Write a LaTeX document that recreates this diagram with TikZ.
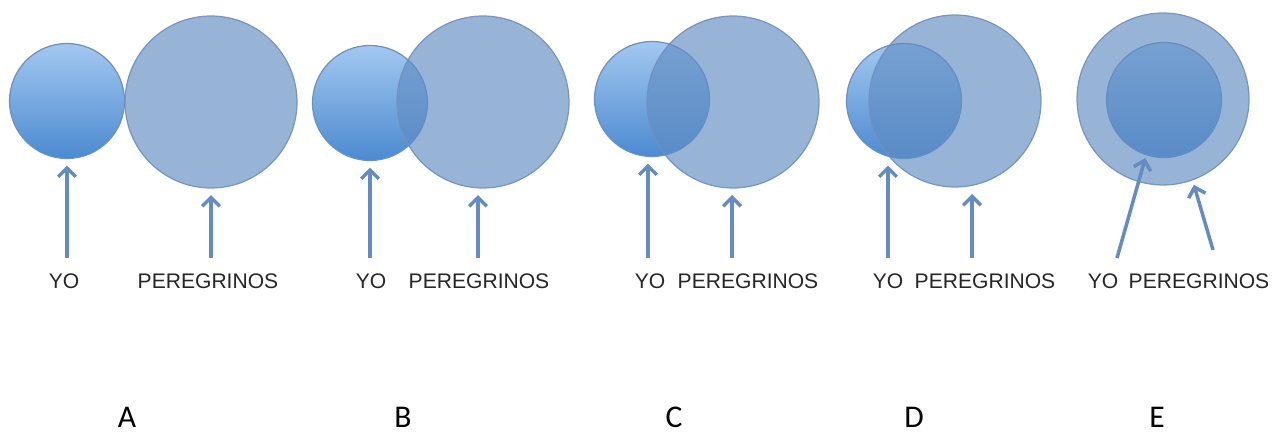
\documentclass[tikz,border=0pt]{standalone}
\usepackage{xcolor}
\usepackage{fontspec}
\setmainfont{Liberation Sans}
\newfontfamily\lettfont{Carlito}
\usetikzlibrary{arrows.meta}
\definecolor{yotop}{RGB}{162,200,240}
\definecolor{yobot}{RGB}{76,138,208}
\definecolor{perfill}{RGB}{96,140,194}
\definecolor{rimblue}{RGB}{110,144,190}
\definecolor{arrowblue}{RGB}{100,140,194}
\begin{document}
\begin{tikzpicture}[x=0.02cm,y=-0.02cm,
    yocirc/.style={circle,draw=rimblue,line width=0.7pt,top color=yotop,bottom color=yobot,minimum size=2.3cm,inner sep=0pt,outer sep=0pt},
    percirc/.style={circle,draw=rimblue,line width=0.7pt,fill=perfill,fill opacity=0.65,draw opacity=0.9,minimum size=3.44cm,inner sep=0pt,outer sep=0pt},
    pointer/.style={draw=arrowblue,line width=2pt,-{Straight Barb[length=5pt,width=10pt,line width=2pt]},shorten >=4pt},
    lbl/.style={font=\fontsize{12}{14}\selectfont,text=black!85,inner sep=0pt},
    letter/.style={font=\lettfont\fontsize{18}{20}\selectfont,inner sep=0pt}]
    \useasboundingbox (0,0) rectangle (1274,435);
    % A
    \node[yocirc] (yoA) at (67,101) {};
    \node[percirc] (perA) at (211,102) {};
    \coordinate (tyoA) at (67,258);
    \coordinate (tperA) at (211,258);
    \draw[pointer] (tyoA) -- (tyoA |- yoA.south);
    \draw[pointer] (tperA) -- (tperA |- perA.south);
    \node[lbl] (lyoA) at (64,281) {YO};
    \node[lbl] (lperA) at (208,281) {PEREGRINOS};
    \node[letter] (A) at (127,417) {A};
    % B
    \node[yocirc] (yoB) at (370,103) {};
    \node[percirc] (perB) at (483,102) {};
    \coordinate (tyoB) at (370,258);
    \coordinate (tperB) at (478,258);
    \draw[pointer] (tyoB) -- (tyoB |- yoB.south);
    \draw[pointer] (tperB) -- (tperB |- perB.south);
    \node[lbl] (lyoB) at (371,281) {YO};
    \node[lbl] (lperB) at (479,281) {PEREGRINOS};
    \node[letter] (B) at (403,417) {B};
    % C
    \node[yocirc] (yoC) at (652,99) {};
    \node[percirc] (perC) at (733,102) {};
    \coordinate (tyoC) at (648,258);
    \coordinate (tperC) at (732,258);
    \draw[pointer] (tyoC) -- (tyoC |- yoC.south);
    \draw[pointer] (tperC) -- (tperC |- perC.south);
    \node[lbl] (lyoC) at (650,281) {YO};
    \node[lbl] (lperC) at (748,281) {PEREGRINOS};
    \node[letter] (C) at (674,417) {C};
    % D
    \node[yocirc] (yoD) at (904,101) {};
    \node[percirc] (perD) at (955,101) {};
    \coordinate (tyoD) at (888,258);
    \coordinate (tperD) at (972,258);
    \draw[pointer] (tyoD) -- (tyoD |- yoD.south);
    \draw[pointer] (tperD) -- (tperD |- perD.south);
    \node[lbl] (lyoD) at (888,281) {YO};
    \node[lbl] (lperD) at (985,281) {PEREGRINOS};
    \node[letter] (D) at (914,417) {D};
    % E
    \node[yocirc] (yoE) at (1164,100) {};
    \node[percirc] (perE) at (1163,99) {};
    \coordinate (tyoE) at (1117,258);
    \coordinate (tperE) at (1213,250);
    \draw[pointer,shorten >=2pt] (tyoE) -- (yoE.-108);
    \draw[pointer,shorten >=3pt] (tperE) -- (perE.-70);
    \node[lbl] (lyoE) at (1103,281) {YO};
    \node[lbl] (lperE) at (1199,281) {PEREGRINOS};
    \node[letter] (E) at (1157,417) {E};
\end{tikzpicture}
\end{document}
